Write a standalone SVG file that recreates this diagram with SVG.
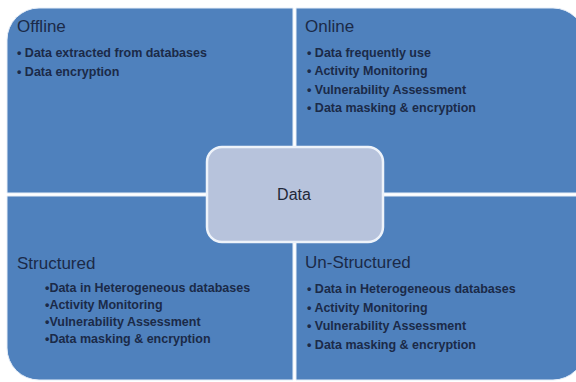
<svg xmlns="http://www.w3.org/2000/svg" width="576" height="382" viewBox="0 0 576 382">
<style>
.q{fill:#4f81bd;stroke:#e6eef8;stroke-width:1}
.t{font-family:"Liberation Sans",Arial,sans-serif;font-size:17px;fill:#1b2a48}
.b{font-family:"Liberation Sans",Arial,sans-serif;font-size:12.5px;font-weight:bold;fill:#1b2a48}
.c{fill:#b7c3dc;stroke:#eef3fa;stroke-width:2.5}
.ct{font-family:"Liberation Sans",Arial,sans-serif;font-size:16px;fill:#1f2838;text-anchor:middle}
</style>
<rect width="576" height="382" fill="#ffffff"/>
<g id="offline">
<path class="q" d="M7,40 A32,32 0 0 1 39,8 L293,8 L293,193 L7,193 Z"/>
<text class="t" x="17" y="32">Offline</text>
<text class="b" x="17" y="57">• Data extracted from databases</text>
<text class="b" x="17" y="76">• Data encryption</text>
</g>
<g id="online">
<path class="q" d="M296,8 L553,8 A32,32 0 0 1 585,40 L585,193 L296,193 Z"/>
<text class="t" x="305" y="32">Online</text>
<text class="b" x="307" y="57">• Data frequently use</text>
<text class="b" x="307" y="75">• Activity Monitoring</text>
<text class="b" x="307" y="94">• Vulnerability Assessment</text>
<text class="b" x="307" y="112">• Data masking &amp; encryption</text>
</g>
<g id="structured">
<path class="q" d="M7,196 L293,196 L293,380 L39,380 A32,32 0 0 1 7,348 Z"/>
<text class="t" x="17" y="269">Structured</text>
<text class="b" x="45" y="292">•Data in Heterogeneous databases</text>
<text class="b" x="45" y="309">•Activity Monitoring</text>
<text class="b" x="45" y="326">•Vulnerability Assessment</text>
<text class="b" x="45" y="343">•Data masking &amp; encryption</text>
</g>
<g id="unstructured">
<path class="q" d="M296,196 L585,196 L585,348 A32,32 0 0 1 553,380 L296,380 Z"/>
<text class="t" x="305" y="268">Un-Structured</text>
<text class="b" x="307" y="293">• Data in Heterogeneous databases</text>
<text class="b" x="307" y="312">• Activity Monitoring</text>
<text class="b" x="307" y="330">• Vulnerability Assessment</text>
<text class="b" x="307" y="349">• Data masking &amp; encryption</text>
</g>
<g id="data">
<rect class="c" x="207" y="147" width="176" height="95" rx="15" ry="15"/>
<text class="ct" x="294" y="200">Data</text>
</g>
<g id="connectors"></g>
</svg>
